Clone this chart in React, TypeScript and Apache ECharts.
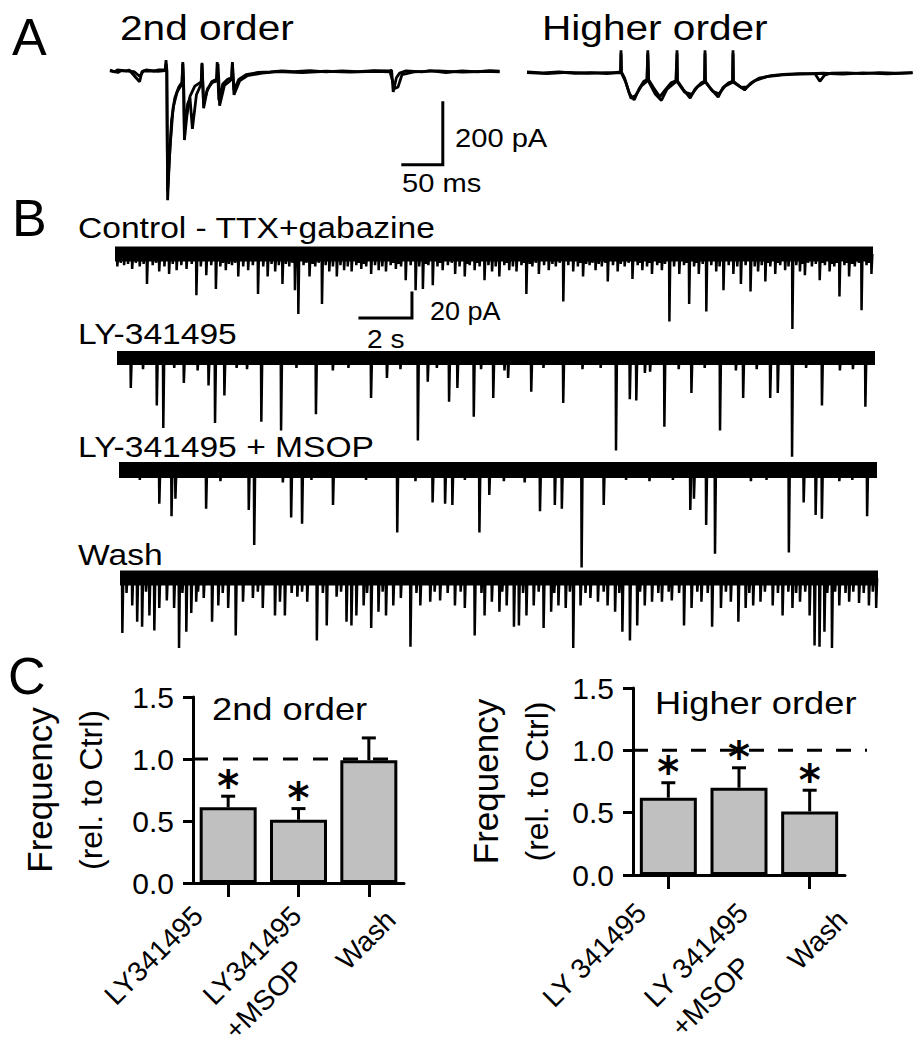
import React, { useEffect, useRef } from "react";
import * as echarts from "echarts";

const FONT = '"Liberation Sans", Arial, Helvetica, sans-serif';

// ---------- Panel A: evoked EPSC sweeps [time (ms), current (pA)] ----------
const A_2ND_SWEEP1 = [
  [0, 0], [6, -6], [9, 0], [20, -3], [24, 0], [37, -38], [40, -5], [45, 0], [55, -3], [60, 0], [69, 0],
  [70, 32], [71, 0], [72, -420], [74, -300], [77, -160], [81, -90], [86, -55], [90, -40], [91, 26], [92, -40],
  [93, -226], [96, -150], [100, -85], [106, -52], [114, -38], [115, 23], [116, -40], [117, -123], [121, -70],
  [127, -38], [133, -30], [134, 26], [135, -30], [136, -97], [141, -45], [147, -30], [152, -25], [153, 26],
  [154, -25], [155, -65], [161, -30], [170, -15], [185, -8], [200, -6], [215, -3], [230, -5], [250, -2],
  [270, -6], [290, -3], [310, -5], [330, -2], [350, -3], [352, 0], [354, -71], [358, -25], [362, -10],
  [370, -3], [390, -6], [400, -2], [420, -8], [440, -3], [460, -6], [475, -2], [487, -4],
];
const A_2ND_SWEEP2 = [
  [0, -3], [10, -8], [14, -2], [30, -5], [37, -20], [42, -3], [60, -4], [69, -2], [70, 20], [71, -2],
  [72, -390], [75, -250], [79, -120], [84, -70], [90, -45], [91, 20], [92, -45], [93, -200], [97, -110],
  [100, -90], [103, -190], [108, -80], [114, -45], [115, 18], [116, -45], [117, -110], [122, -60], [128, -40],
  [134, -35], [135, 20], [136, -35], [137, -115], [143, -50], [150, -35], [152, -30], [153, 20], [154, -30],
  [155, -80], [162, -35], [172, -18], [190, -10], [210, -5], [240, -8], [270, -4], [300, -7], [330, -4],
  [350, -6], [356, -60], [360, -55], [365, -15], [380, -6], [410, -3], [440, -7], [470, -4], [487, -6],
];
const A_HIGH_SWEEP1 = [
  [0, 0], [20, -3], [40, 0], [60, -4], [80, -2], [100, -5], [117, 0], [117.5, 70], [118, 0], [122, -20],
  [128, -70], [134, -90], [140, -55], [146, -30], [150, -25], [151, 70], [152, -25], [158, -50], [166, -80],
  [172, -60], [180, -35], [187, -28], [187.5, 70], [188, -28], [195, -55], [204, -84], [210, -55], [218, -35],
  [222, -30], [222.5, 70], [223, -30], [230, -55], [239, -81], [245, -50], [252, -35], [257, -30], [257.5, 70],
  [258, -30], [265, -45], [272, -58], [280, -35], [290, -20], [305, -12], [320, -8], [340, -5], [360, -6],
  [366, -30], [372, -10], [380, -4], [400, -3], [420, -5], [440, -2], [460, -4], [482, -2],
];
const A_HIGH_SWEEP2 = [
  [0, -2], [25, -5], [50, -1], [75, -4], [100, -2], [117, -3], [117.5, 60], [118, -3], [123, -30], [130, -85],
  [136, -75], [143, -45], [150, -30], [151, 60], [152, -30], [160, -70], [168, -92], [175, -55], [186, -32],
  [187.5, 60], [188, -32], [197, -65], [206, -72], [213, -48], [222, -33], [222.5, 60], [223, -33], [232, -62],
  [240, -70], [248, -45], [257, -33], [257.5, 60], [258, -33], [268, -50], [275, -48], [285, -28], [300, -15],
  [320, -9], [345, -6], [370, -4], [395, -7], [420, -3], [450, -6], [482, -3],
];

// ---------- Panel B: spontaneous EPSC events [time (s), amplitude (pA)] ----------
const B_DURATION_S = 29.15;
const CONTROL_EVENTS = [
  [0.09, 10], [0.22, 7], [0.35, 9], [0.5, 8], [0.66, 12], [0.8, 7], [0.95, 10], [1.1, 8], [1.23, 24], [1.45, 9],
  [1.58, 7], [1.7, 14], [1.9, 10], [2.08, 16], [2.22, 8], [2.37, 13], [2.55, 9], [2.75, 12], [2.95, 8],
  [3.13, 33], [3.3, 10], [3.51, 17], [3.7, 9], [3.88, 28], [4.05, 10], [4.15, 7], [4.26, 13], [4.38, 8],
  [4.5, 9], [4.62, 7], [4.74, 18], [4.93, 10], [5.12, 13], [5.3, 9], [5.5, 32], [5.7, 10], [5.87, 18],
  [6.02, 8], [6.16, 14], [6.3, 9], [6.44, 24], [6.57, 8], [6.7, 10], [6.82, 7], [6.92, 29], [7.05, 48],
  [7.25, 9], [7.36, 7], [7.48, 18], [7.6, 8], [7.7, 10], [7.83, 7], [7.96, 40], [8.1, 9], [8.24, 14],
  [8.38, 10], [8.53, 18], [8.67, 9], [8.81, 13], [8.95, 10], [9.1, 14], [9.28, 9], [9.38, 7], [9.47, 12],
  [9.56, 8], [9.66, 10], [9.85, 16], [10.0, 9], [10.14, 13], [10.28, 10], [10.42, 14], [10.6, 9], [10.7, 7],
  [10.8, 12], [10.9, 8], [11.0, 10], [11.18, 21], [11.37, 9], [11.56, 29], [11.7, 10], [11.84, 28],
  [11.95, 8], [12.05, 9], [12.22, 25], [12.4, 10], [12.5, 7], [12.6, 13], [12.8, 9], [12.95, 7], [13.08, 16],
  [13.25, 10], [13.45, 18], [13.55, 8], [13.64, 9], [13.83, 13], [13.92, 7], [14.02, 10], [14.21, 21],
  [14.36, 9], [14.5, 14], [14.64, 10], [14.78, 18], [14.97, 9], [15.07, 7], [15.16, 13], [15.3, 10],
  [15.44, 14], [15.63, 9], [15.72, 7], [15.82, 32], [15.95, 8], [16.05, 10], [16.18, 7], [16.3, 16],
  [16.5, 9], [16.68, 13], [16.82, 8], [16.95, 10], [17.1, 7], [17.24, 38], [17.43, 9], [17.62, 14],
  [17.8, 10], [17.9, 7], [18.0, 18], [18.12, 8], [18.25, 9], [18.36, 7], [18.48, 13], [18.6, 8], [18.72, 10],
  [18.85, 7], [18.95, 22], [19.15, 9], [19.33, 14], [19.45, 8], [19.6, 10], [19.75, 7], [19.9, 20],
  [20.1, 9], [20.2, 7], [20.28, 13], [20.46, 10], [20.55, 7], [20.65, 16], [20.85, 9], [20.95, 7],
  [21.03, 13], [21.15, 8], [21.32, 54], [21.5, 10], [21.7, 16], [21.88, 9], [21.97, 7], [22.08, 40],
  [22.27, 10], [22.36, 7], [22.45, 16], [22.6, 8], [22.74, 46], [22.93, 9], [23.12, 14], [23.25, 10],
  [23.4, 29], [23.6, 9], [23.78, 16], [23.93, 10], [24.07, 24], [24.25, 9], [24.44, 30], [24.6, 10],
  [24.73, 14], [24.87, 9], [25.01, 22], [25.1, 7], [25.2, 10], [25.39, 16], [25.48, 7], [25.58, 9],
  [25.77, 13], [25.9, 10], [26.05, 60], [26.2, 9], [26.34, 14], [26.43, 8], [26.53, 17], [26.65, 7],
  [26.8, 10], [26.95, 8], [27.1, 21], [27.2, 7], [27.3, 9], [27.48, 14], [27.57, 8], [27.66, 10],
  [27.76, 7], [27.86, 34], [28.05, 9], [28.14, 7], [28.23, 18], [28.35, 8], [28.45, 10], [28.6, 7],
  [28.71, 45], [28.9, 9], [29.0, 7], [29.09, 16],
];
const LY_EVENTS = [
  [0.53, 24], [1.0, 9], [1.53, 38], [1.78, 56], [2.2, 8], [2.57, 20], [3.1, 10], [3.52, 22], [3.77, 52],
  [4.13, 30], [4.6, 8], [5.0, 9], [5.55, 51], [6.31, 58], [6.9, 8], [7.65, 45], [8.3, 10], [8.9, 8],
  [9.77, 32], [10.38, 16], [10.9, 9], [11.57, 66], [11.95, 19], [12.3, 8], [12.77, 35], [13.09, 24],
  [13.72, 47], [14.0, 9], [14.47, 32], [14.9, 10], [15.04, 16], [15.93, 27], [16.4, 8], [17.16, 36],
  [17.9, 9], [18.6, 8], [19.19, 74], [19.72, 33], [19.97, 34], [20.3, 12], [20.5, 11], [21.05, 55],
  [21.6, 9], [22.09, 28], [22.6, 8], [23.19, 58], [23.8, 10], [24.08, 32], [24.6, 9], [25.12, 32],
  [25.41, 28], [25.96, 79], [26.5, 8], [27.11, 38], [27.8, 10], [28.3, 9], [28.78, 39],
];
const MSOP_EVENTS = [
  [0.8, 8], [1.55, 27], [2.02, 37], [2.17, 23], [3.35, 31], [3.9, 9], [4.99, 32], [5.2, 60], [6.3, 10],
  [6.62, 38], [7.04, 43], [7.4, 8], [8.23, 28], [9.5, 8], [10.7, 50], [11.4, 9], [12.06, 26], [12.54, 27],
  [12.82, 28], [13.3, 8], [13.86, 50], [14.24, 20], [14.8, 9], [15.6, 10], [16.19, 33], [16.76, 28],
  [17.03, 31], [17.79, 78], [18.64, 28], [19.5, 8], [20.4, 9], [21.3, 8], [21.97, 32], [22.11, 23],
  [22.58, 44], [22.92, 67], [24.3, 9], [24.9, 8], [25.76, 66], [26.33, 26], [26.79, 36], [27.03, 39],
  [27.7, 9], [28.2, 8], [28.77, 37],
];
const WASH_EVENTS = [
  [0.09, 44], [0.25, 12], [0.47, 22], [0.66, 35], [0.85, 39], [1.0, 11], [1.13, 30], [1.32, 42], [1.51, 24],
  [1.8, 18], [2.08, 24], [2.27, 56], [2.4, 12], [2.55, 43], [2.74, 28], [2.93, 19], [3.0, 11], [3.22, 16],
  [3.54, 35], [3.78, 22], [3.95, 12], [4.16, 24], [4.45, 46], [4.73, 19], [5.11, 16], [5.3, 11], [5.49, 24],
  [5.96, 30], [6.15, 19], [6.34, 30], [6.6, 12], [6.82, 15], [7.0, 11], [7.2, 19], [7.57, 50], [7.8, 12],
  [7.95, 38], [8.33, 15], [8.5, 11], [8.71, 35], [8.9, 38], [9.09, 30], [9.37, 22], [9.5, 12], [9.66, 40],
  [9.94, 27], [10.1, 11], [10.23, 30], [10.51, 22], [10.8, 16], [11.17, 55], [11.4, 12], [11.55, 22],
  [11.93, 19], [12.1, 11], [12.31, 18], [12.6, 12], [12.88, 22], [13.1, 11], [13.26, 24], [13.64, 46],
  [13.9, 12], [14.02, 30], [14.3, 19], [14.59, 27], [14.7, 11], [14.87, 22], [15.15, 39], [15.34, 38],
  [15.5, 12], [15.63, 30], [15.91, 22], [16.1, 11], [16.29, 40], [16.58, 27], [16.7, 12], [16.86, 22],
  [17.14, 24], [17.3, 11], [17.43, 56], [17.71, 22], [17.9, 12], [18.09, 16], [18.38, 19], [18.6, 11],
  [18.75, 22], [19.04, 27], [19.2, 12], [19.32, 43], [19.61, 50], [19.89, 38], [20.0, 11], [20.18, 22],
  [20.46, 19], [20.7, 12], [20.84, 19], [21.1, 11], [21.22, 18], [21.5, 12], [21.69, 38], [21.98, 24],
  [22.2, 11], [22.36, 19], [22.6, 12], [22.77, 39], [23.11, 24], [23.3, 11], [23.49, 19], [23.78, 35],
  [24.06, 24], [24.2, 12], [24.35, 22], [24.63, 19], [24.8, 11], [25.1, 22], [25.3, 12], [25.48, 30],
  [25.7, 11], [25.86, 24], [26.0, 12], [26.15, 19], [26.35, 11], [26.52, 30], [26.71, 54], [26.9, 55],
  [27.09, 43], [27.2, 12], [27.38, 56], [27.5, 11], [27.66, 22], [27.9, 12], [28.04, 19], [28.2, 11],
  [28.42, 20], [28.6, 12], [28.8, 22], [28.95, 11], [29.08, 24],
];

// ---------- Panel C: frequency relative to control ----------
const C_CATS_2ND = ["LY341495", "LY341495\n+MSOP", "Wash"];
const C_MEAN_2ND = [0.61, 0.51, 0.99];
const C_ERR_2ND = [0.7, 0.6, 1.17];
const C_STAR_2ND = ["*", "*", ""];
const C_CATS_HIGH = ["LY 341495", "LY 341495\n+MSOP", "Wash"];
const C_MEAN_HIGH = [0.62, 0.7, 0.51];
const C_ERR_HIGH = [0.74, 0.86, 0.68];
const C_STAR_HIGH = ["*", "*", "*"];
const CONTROL_LEVEL = 1.0;

function spikeData(events: number[][], T: number) {
  const sorted = [...events].sort((a, b) => a[0] - b[0]);
  const pts: number[][] = [[0, 0]];
  for (const [t, a] of sorted) {
    pts.push([t - 0.012, 0], [t, -a], [t + 0.035, 0]);
  }
  pts.push([T, 0]);
  return pts;
}

function txt(text: string, x: number, y: number, size: number, sx = 1) {
  return {
    type: "text",
    x,
    y,
    scaleX: sx,
    silent: true,
    style: {
      text,
      font: `${size}px ${FONT}`,
      fill: "#000",
      textAlign: "left",
      textVerticalAlign: "middle",
      align: "left",
      verticalAlign: "middle",
    },
  };
}

export default function App() {
  const ref = useRef<HTMLDivElement>(null);
  useEffect(() => {
    if (!ref.current) return;
    const chart = echarts.init(ref.current, undefined, { renderer: "svg" });

    const grids: any[] = [
      { left: 110, top: 40, width: 390, height: 170 }, // 0 A 2nd
      { left: 527, top: 40, width: 386, height: 100 }, // 1 A higher
      { left: 115, top: 238, width: 758, height: 95 }, // 2 B control
      { left: 117, top: 342, width: 758, height: 120 }, // 3 B LY
      { left: 119, top: 454, width: 758, height: 118 }, // 4 B MSOP
      { left: 120, top: 562, width: 758, height: 90 }, // 5 B wash
      { left: 193, top: 697, width: 211, height: 186 }, // 6 C 2nd
      { left: 633, top: 688, width: 212, height: 187 }, // 7 C higher
      { left: 193, top: 697, width: 209, height: 186 }, // 8 dashed 2nd
      { left: 633, top: 688, width: 234, height: 187 }, // 9 dashed higher
    ];

    const hidden = (gi: number, min: number, max: number) => ({
      gridIndex: gi, type: "value", min, max, show: false,
    });

    const xAxes: any[] = [
      hidden(0, 0, 487.5),
      hidden(1, 0, 482.5),
      hidden(2, 0, B_DURATION_S),
      hidden(3, 0, B_DURATION_S),
      hidden(4, 0, B_DURATION_S),
      hidden(5, 0, B_DURATION_S),
    ];
    const yAxes: any[] = [
      hidden(0, -451.6, 96.8),
      hidden(1, -219.4, 103.2),
      hidden(2, -63.2, 12.8),
      hidden(3, -83.2, 12.8),
      hidden(4, -81.6, 12.8),
      hidden(5, -59.2, 12.8),
    ];

    const catAxis = (gi: number, cats: string[]) => ({
      gridIndex: gi,
      type: "category",
      data: cats,
      axisLine: { show: true, lineStyle: { color: "#000", width: 3 } },
      axisTick: { show: true, alignWithLabel: true, length: 14, lineStyle: { color: "#000", width: 3 } },
      axisLabel: { show: false },
    });
    const valAxis = (gi: number, gap: number) => ({
      gridIndex: gi,
      type: "value",
      min: 0,
      max: 1.5,
      interval: 0.5,
      axisLine: { show: true, lineStyle: { color: "#000", width: 3 } },
      axisTick: { show: true, length: 10, lineStyle: { color: "#000", width: 3 } },
      axisLabel: {
        fontSize: 30, fontFamily: FONT, color: "#000", margin: 19,
        formatter: (v: number) => v.toFixed(1),
      },
      splitLine: { show: false },
      name: "{a|Frequency}\n{b|(rel. to Ctrl)}",
      nameLocation: "middle",
      nameRotate: 90,
      nameGap: gap,
      nameTextStyle: {
        rich: {
          a: { fontSize: 35, fontFamily: FONT, color: "#000", lineHeight: 52 },
          b: { fontSize: 32, fontFamily: FONT, color: "#000", lineHeight: 52 },
        },
      },
    });
    xAxes.push(catAxis(6, C_CATS_2ND), catAxis(7, C_CATS_HIGH), hidden(8, 0, 1), hidden(9, 0, 1));
    yAxes.push(valAxis(6, 76), valAxis(7, 70), hidden(8, 0, 1.5), hidden(9, 0, 1.5));

    const line = (idx: number, data: number[][], width: number, extra: any = {}) => ({
      type: "line",
      xAxisIndex: idx,
      yAxisIndex: idx,
      data,
      showSymbol: false,
      symbol: "none",
      silent: true,
      animation: false,
      lineStyle: { color: "#000", width, join: "bevel", ...extra },
      z: 3,
    });

    const series: any[] = [];
    // Panel A
    series.push(line(0, A_2ND_SWEEP1, 2.8), line(0, A_2ND_SWEEP2, 2.8));
    series.push(line(0, [[366, -306], [416, -306], [416, -106]], 3, { join: "miter", cap: "square" }));
    series.push(line(1, A_HIGH_SWEEP1, 2.8), line(1, A_HIGH_SWEEP2, 2.8));

    // Panel B
    const traces: [number, number[][], number][] = [
      [2, CONTROL_EVENTS, 15],
      [3, LY_EVENTS, 14],
      [4, MSOP_EVENTS, 16],
      [5, WASH_EVENTS, 15],
    ];
    for (const [gi, ev, bw] of traces) {
      series.push({ ...line(gi, [[0, 0], [B_DURATION_S, 0]], bw, { cap: "butt" }), z: 2 });
      series.push(line(gi, spikeData(ev, B_DURATION_S), 2.5));
    }
    series.push(line(2, [[9.42, -51.2], [11.42, -51.2], [11.42, -31.2]], 3, { join: "miter", cap: "square" }));

    // Panel C
    const errSeries = (gi: number, means: number[], errs: number[], stars: string[]) => ({
      type: "custom",
      xAxisIndex: gi,
      yAxisIndex: gi,
      silent: true,
      z: 4,
      data: means.map((m, i) => [i, m, errs[i]]),
      renderItem: (params: any, api: any) => {
        const i = api.value(0);
        const p0 = api.coord([i, api.value(1)]);
        const p1 = api.coord([i, api.value(2)]);
        const star = stars[params.dataIndex];
        const children: any[] = [
          { type: "line", shape: { x1: p0[0], y1: p0[1], x2: p1[0], y2: p1[1] }, style: { stroke: "#000", lineWidth: 3 } },
          { type: "line", shape: { x1: p1[0] - 7, y1: p1[1], x2: p1[0] + 7, y2: p1[1] }, style: { stroke: "#000", lineWidth: 3 } },
        ];
        if (star) {
          children.push({
            type: "text",
            x: p1[0],
            y: p1[1] - 10,
            style: {
              text: star, font: `bold 42px "DejaVu Sans", sans-serif`, fill: "#000",
              align: "center", verticalAlign: "middle", textAlign: "center", textVerticalAlign: "middle",
            },
          });
        }
        return { type: "group", children };
      },
    });
    // rotated category labels, drawn at the category positions of the axis
    const labelSeries = (gi: number, cats: string[], dxs: number[], dys: number[]) => ({
      type: "custom",
      xAxisIndex: gi,
      yAxisIndex: gi,
      silent: true,
      clip: false,
      z: 4,
      data: cats.map((_, i) => [i, 0]),
      renderItem: (params: any, api: any) => {
        const k = params.dataIndex;
        const p = api.coord([api.value(0), 0]);
        const ex = p[0] + dxs[k];
        const ey = p[1] + dys[k];
        const c = Math.SQRT1_2;
        const lines = cats[k].split("\n");
        return {
          type: "group",
          children: lines.map((ln, j) => {
            const back = j > 0 ? 36 : 0;
            const lh = 40 * j;
            return {
              type: "text",
              x: ex + lh * c - back * c,
              y: ey + lh * c + back * c,
              rotation: Math.PI / 4,
              style: {
                text: ln, font: `28px ${FONT}`, fill: "#000",
                align: "right", verticalAlign: "middle", textAlign: "right", textVerticalAlign: "middle",
              },
            };
          }),
        };
      },
    });
    const barSeries = (gi: number, means: number[]) => ({
      type: "bar",
      xAxisIndex: gi,
      yAxisIndex: gi,
      data: means,
      barWidth: 57,
      silent: true,
      itemStyle: { color: "#c0c0c0", borderColor: "#000", borderWidth: 3 },
      z: 2,
    });
    series.push(barSeries(6, C_MEAN_2ND), errSeries(6, C_MEAN_2ND, C_ERR_2ND, C_STAR_2ND));
    series.push(labelSeries(6, C_CATS_2ND, [-30, -2, 22], [28, 28, 32]));
    series.push(barSeries(7, C_MEAN_HIGH), errSeries(7, C_MEAN_HIGH, C_ERR_HIGH, C_STAR_HIGH));
    series.push(labelSeries(7, C_CATS_HIGH, [-27, 4, 33], [33, 33, 40]));
    series.push({ ...line(8, [[0, CONTROL_LEVEL], [1, CONTROL_LEVEL]], 3, { type: [15, 15], cap: "butt" }), z: 5 });
    series.push({ ...line(9, [[0, CONTROL_LEVEL], [1, CONTROL_LEVEL]], 3, { type: [15, 14], cap: "butt" }), z: 5 });

    const graphic: any[] = [
      txt("A", 12, 37, 52),
      txt("2nd order", 120, 28, 35, 1.16),
      txt("Higher order", 542, 28, 35, 1.16),
      txt("200 pA", 455, 138, 26, 1.12),
      txt("50 ms", 402, 183, 26, 1.12),
      txt("B", 12, 218, 52),
      txt("Control - TTX+gabazine", 78, 228, 30, 1.12),
      txt("20 pA", 430, 311, 25, 1.08),
      txt("2 s", 367, 339, 26, 1.08),
      txt("LY-341495", 78, 334, 30, 1.12),
      txt("LY-341495 + MSOP", 78, 447, 30, 1.12),
      txt("Wash", 78, 555, 30, 1.12),
      txt("C", 8, 676, 52),
      txt("2nd order", 212, 709, 31, 1.17),
      txt("Higher order", 655, 703, 31, 1.17),
    ];

    chart.setOption({
      animation: false,
      backgroundColor: "#fff",
      grid: grids,
      xAxis: xAxes,
      yAxis: yAxes,
      series,
      graphic,
    });
    return () => chart.dispose();
  }, []);

  return (
    <div
      ref={ref}
      style={{ position: "fixed", left: 0, top: 0, width: 924, height: 1050, background: "#fff" }}
    />
  );
}
